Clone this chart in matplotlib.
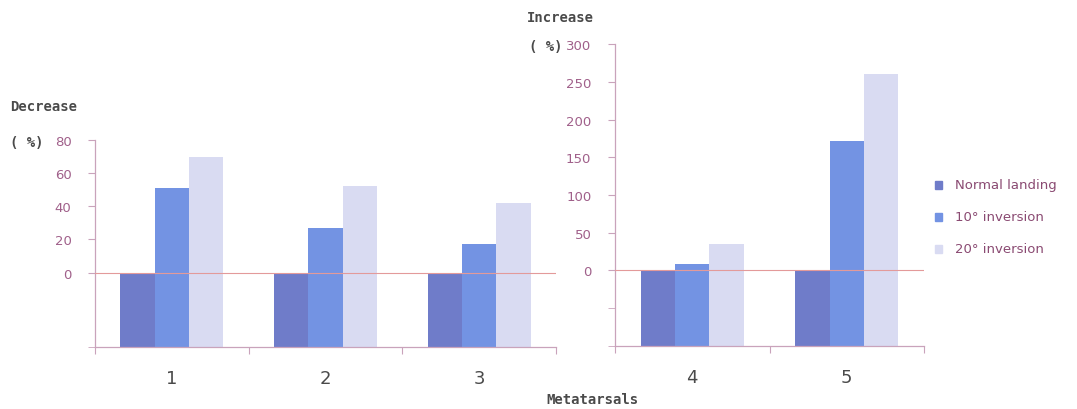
import matplotlib
matplotlib.use("Agg")
import matplotlib.pyplot as plt
from matplotlib.transforms import offset_copy
import numpy as np

# Percentage change in metatarsal loading relative to normal landing
series_names = ["Normal landing", "10° inversion", "20° inversion"]
colors = ["#6f7cc9", "#7393e3", "#d9dbf2"]

left_cats = ["1", "2", "3"]
left_normal = [0, 0, 0]
left_inv10 = [51, 27, 17]
left_inv20 = [70, 52, 42]

right_cats = ["4", "5"]
right_normal = [0, 0]
right_inv10 = [8, 172]
right_inv20 = [35, 260]

left_ticks = [0, 20, 40, 60, 80]
right_ticks = [0, 50, 100, 150, 200, 250, 300]

axis_col = "#c9a3bb"
tick_col = "#a0608a"
zero_col = "#e39a9a"
label_col = "#4a4a4a"

fig = plt.figure(figsize=(10.77, 4.10), dpi=100)
axL = fig.add_axes([0.0882, 0.151, 0.428, 0.505])
axR = fig.add_axes([0.571, 0.154, 0.287, 0.736])


def draw_panel(ax, cats, groups, ymin, ymax, ticks, minor_ticks):
    x = np.arange(len(cats))
    w = 0.223
    for i, vals in enumerate(groups):
        ax.bar(x + (i - 1) * w, np.array(vals) - ymin, width=w, bottom=ymin,
               color=colors[i], edgecolor="none", label=series_names[i], zorder=2)
    ax.axhline(0, color=zero_col, lw=0.8, zorder=3)
    ax.set_xlim(-0.5, len(cats) - 0.5)
    ax.set_ylim(ymin, ymax)
    ax.set_yticks(ticks)
    ax.set_yticklabels([str(t) for t in ticks], color=tick_col, fontsize=9.5)
    ax.set_yticks(minor_ticks, minor=True)
    ax.set_xticks(np.arange(len(cats) + 1) - 0.5)
    ax.set_xticklabels([])
    ax.tick_params(axis="y", which="both", length=5, color=axis_col, direction="out", pad=12)
    ax.tick_params(axis="x", length=5, color=axis_col, direction="out")
    for s in ["top", "right"]:
        ax.spines[s].set_visible(False)
    for s in ["left", "bottom"]:
        ax.spines[s].set_color(axis_col)
        ax.spines[s].set_linewidth(0.9)
    trans = offset_copy(ax.get_xaxis_transform(), fig=fig, y=-31, units="dots")
    for i, c in enumerate(cats):
        ax.text(i, 0, c, transform=trans, ha="center",
                va="center", fontsize=13, color=label_col)


draw_panel(axL, left_cats, [left_normal, left_inv10, left_inv20], -45, 80,
           left_ticks, [-45])
draw_panel(axR, right_cats, [right_normal, right_inv10, right_inv20], -100, 300,
           right_ticks, [-50, -100])

mono = dict(family="DejaVu Sans Mono", fontweight="bold", color=label_col)
fig.text(10 / 1077, 1 - 107 / 410, "Decrease", fontsize=10, va="center", **mono)
fig.text(10 / 1077, 1 - 143 / 410, "( %)", fontsize=10, va="center", **mono)
fig.text(527 / 1077, 1 - 18 / 410, "Increase", fontsize=10, va="center", **mono)
fig.text(529 / 1077, 1 - 47 / 410, "( %)", fontsize=10, va="center", **mono)
fig.text(592 / 1077, 1 - 400 / 410, "Metatarsals", fontsize=10, ha="center",
         va="center", **mono)

# Legend
for i, name in enumerate(series_names):
    y = 1 - (186 + 32 * i) / 410
    fig.patches.append(plt.Rectangle((935 / 1077, y - 4 / 410), 7 / 1077, 8 / 410,
                                     transform=fig.transFigure, color=colors[i]))
    fig.text(955 / 1077, y, name, fontsize=9.5, va="center", color="#8a4a72")

fig.savefig("out.png", dpi=100, facecolor="white")
